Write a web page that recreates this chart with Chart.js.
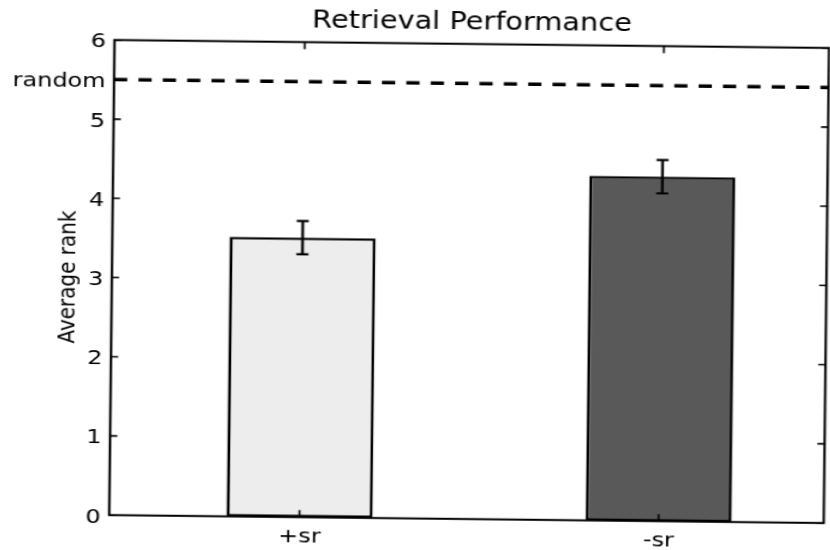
<!DOCTYPE html>
<html>
<head>
<meta charset="utf-8">
<script src="https://cdn.jsdelivr.net/npm/chart.js@4/dist/chart.umd.min.js"></script>
<style>
  html, body { margin: 0; padding: 0; background: #ffffff; overflow: hidden; width: 830px; height: 550px; }
  #wrap { position: absolute; left: 0; top: 0; width: 700px; height: 550px;
          transform-origin: 0 0; transform: rotate(0.64deg) scaleX(1.2); }
  canvas { display: block; background: #ffffff; }
</style>
</head>
<body>
<div id="wrap"><canvas id="chart" width="700" height="550"></canvas></div>
<script>
// Retrieval results: average rank per condition, with error bars
const categories = ['+sr', '-sr'];
const meanRank = [3.53, 4.35];
const rankError = [0.21, 0.21];
const randomRank = 5.5;
const yTickValues = [0, 1, 2, 3, 4, 5, 5.5, 6];
const yTickLabels = ['0', '1', '2', '3', '4', '5', 'random', '6'];

const FONT = "'DejaVu Sans', sans-serif";

// Frame, inward ticks, error bars and the chance-level line
const decorations = {
  id: 'decorations',
  afterDatasetsDraw(chart) {
    const { ctx, chartArea: a, scales: { x, y } } = chart;
    ctx.save();
    // dashed chance level
    ctx.strokeStyle = '#000';
    ctx.lineWidth = 3.5;
    ctx.setLineDash([11, 9.3]);
    const yr = y.getPixelForValue(randomRank);
    ctx.beginPath();
    ctx.moveTo(a.left, yr);
    ctx.lineTo(a.right, yr);
    ctx.stroke();
    ctx.setLineDash([]);

    // error bars
    ctx.lineWidth = 2.2;
    meanRank.forEach((m, i) => {
      const px = x.getPixelForValue(i);
      const top = y.getPixelForValue(m + rankError[i]);
      const bot = y.getPixelForValue(m - rankError[i]);
      ctx.beginPath();
      ctx.moveTo(px, top); ctx.lineTo(px, bot);
      ctx.moveTo(px - 5, top); ctx.lineTo(px + 5, top);
      ctx.moveTo(px - 5, bot); ctx.lineTo(px + 5, bot);
      ctx.stroke();
    });
    ctx.restore();
  },
  afterDraw(chart) {
    const { ctx, chartArea: a, scales: { x, y } } = chart;
    ctx.save();
    ctx.strokeStyle = '#000';
    ctx.lineWidth = 1.6;
    // inward tick marks on all four sides
    ctx.beginPath();
    y.ticks.forEach(t => {
      if (!Number.isInteger(t.value)) return;
      const py = y.getPixelForValue(t.value);
      ctx.moveTo(a.left, py); ctx.lineTo(a.left + 6, py);
      ctx.moveTo(a.right, py); ctx.lineTo(a.right - 6, py);
    });
    x.ticks.forEach(t => {
      const px = x.getPixelForValue(t.value);
      ctx.moveTo(px, a.bottom); ctx.lineTo(px, a.bottom - 7);
      ctx.moveTo(px, a.top); ctx.lineTo(px, a.top + 7);
    });
    ctx.stroke();
    // axes frame
    ctx.lineWidth = 2;
    ctx.strokeRect(a.left, a.top, a.right - a.left, a.bottom - a.top);
    ctx.restore();
  }
};

new Chart(document.getElementById('chart'), {
  type: 'bar',
  data: {
    datasets: [{
      data: meanRank.map((v, i) => ({ x: i, y: v })),
      backgroundColor: ['#ededed', '#595959'],
      borderColor: '#000',
      borderWidth: 2.5,
      borderSkipped: false,
      categoryPercentage: 1,
      barPercentage: 0.407
    }]
  },
  options: {
    responsive: false,
    animation: false,
    devicePixelRatio: 1,
    layout: { padding: { left: 0, right: 8.7, top: 0, bottom: 0 } },
    plugins: {
      legend: { display: false },
      tooltip: { enabled: false },
      title: {
        display: true,
        fullSize: false,
        text: 'Retrieval Performance',
        color: '#000',
        font: { family: FONT, size: 24, weight: 'normal' },
        padding: { top: 3.5, bottom: 6.4 }
      }
    },
    scales: {
      x: {
        type: 'linear',
        offset: false,
        min: -0.53,
        max: 1.46,
        grid: { display: false, drawTicks: false, offset: false },
        border: { display: false },
        afterBuildTicks: s => { s.ticks = categories.map((c, i) => ({ value: i })); },
        afterFit: s => { s.height = 36.2; },
        ticks: {
          autoSkip: false, maxRotation: 0, padding: 8,
          color: '#000', font: { family: FONT, size: 20 },
          callback: v => categories[v]
        }
      },
      y: {
        min: 0,
        max: 6,
        grid: { display: false, drawTicks: false },
        border: { display: false },
        afterBuildTicks: s => { s.ticks = yTickValues.map(v => ({ value: v })); },
        afterFit: s => { s.width = 95.8; },
        title: {
          display: true,
          text: 'Average rank',
          color: '#000',
          font: { family: FONT, size: 20 },
          padding: { top: 48, bottom: 0 }
        },
        ticks: {
          autoSkip: false, padding: 7, labelOffset: 2.5,
          color: '#000', font: { family: FONT, size: 20 },
          callback: (v, i) => yTickLabels[i]
        }
      }
    }
  },
  plugins: [decorations]
});
</script>
</body>
</html>
